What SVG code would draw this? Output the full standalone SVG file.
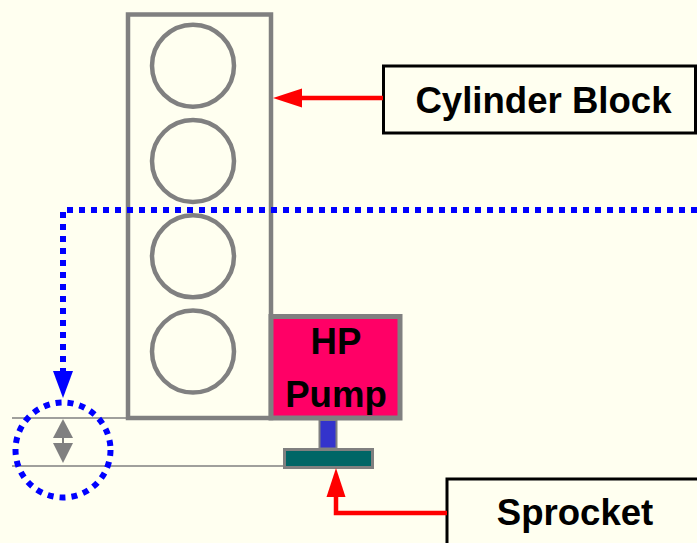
<svg xmlns="http://www.w3.org/2000/svg" width="697" height="543" viewBox="0 0 697 543">
<style>
.bg{fill:#FFFFF0}
.gray{fill:none;stroke:#808080;stroke-width:4.5}
.thin{fill:none;stroke:#808080;stroke-width:1.5}
.label{fill:#FFFFF0;stroke:#000;stroke-width:3}
.txt{font-family:"Liberation Sans",Arial,sans-serif;font-weight:bold;font-size:36.6px;fill:#000;text-anchor:middle}
.red{fill:none;stroke:#FF0000;stroke-width:4.5}
.dot{fill:none;stroke:#0000FF;stroke-width:6;stroke-dasharray:6 6}
</style>
<defs>
<marker id="redArrow" markerUnits="userSpaceOnUse" markerWidth="30" markerHeight="20" viewBox="0 0 30 20" refX="0" refY="10" orient="auto">
<path d="M0,0.5 L29,10 L0,19.5 z" fill="#FF0000"/>
</marker>
<marker id="blueArrow" markerUnits="userSpaceOnUse" markerWidth="28" markerHeight="22" viewBox="0 0 28 22" refX="0" refY="11" orient="auto">
<path d="M0,1 L27,11 L0,21 z" fill="#0000FF"/>
</marker>
</defs>
<rect class="bg" x="0" y="0" width="697" height="543"/>

<g id="cylinder-block">
<rect class="gray" x="128" y="14.5" width="143" height="403.5"/>
<circle class="gray" cx="193" cy="65.7" r="41"/>
<circle class="gray" cx="193" cy="161" r="41"/>
<circle class="gray" cx="193" cy="256.3" r="41"/>
<circle class="gray" cx="193" cy="351.5" r="41"/>
</g>

<g id="hp-pump">
<rect x="271" y="316.5" width="129" height="101.5" fill="#FF0066" stroke="#808080" stroke-width="5"/>
<text class="txt" x="336" y="354">HP</text>
<text class="txt" x="336" y="407">Pump</text>
</g>

<g id="shaft">
<rect x="319.5" y="420" width="17" height="28.5" fill="#3333CC" stroke="#808080" stroke-width="2"/>
</g>

<g id="sprocket">
<rect x="284.5" y="449.5" width="88" height="18" fill="#006666" stroke="#808080" stroke-width="3"/>
</g>

<g id="reference-lines">
<line class="thin" x1="12" y1="418" x2="127" y2="418"/>
<line class="thin" x1="12" y1="466" x2="284" y2="466"/>
</g>

<g id="gap-indicator">
<ellipse class="dot" cx="63" cy="450" rx="47.5" ry="47.5" stroke-dasharray="5.5 6.5"/>
<polygon points="63,419 53,438 73,438" fill="#808080"/>
<line x1="63" y1="437" x2="63" y2="444" stroke="#808080" stroke-width="2"/>
<polygon points="53,443 73,443 63,463" fill="#808080"/>
</g>

<g id="label-cylinder-block">
<rect class="label" x="383.5" y="66" width="312" height="67"/>
<text class="txt" x="543.5" y="112.5">Cylinder Block</text>
</g>

<g id="label-sprocket">
<rect class="label" x="447" y="479" width="260" height="80"/>
<text class="txt" x="575" y="525">Sprocket</text>
</g>

<g id="connectors">
<path class="red" d="M383,98 H302" marker-end="url(#redArrow)"/>
<path class="red" d="M447,513 H336 V497" marker-end="url(#redArrow)"/>
<path class="dot" d="M697,210 H63 V371" marker-end="url(#blueArrow)"/>
</g>
</svg>
